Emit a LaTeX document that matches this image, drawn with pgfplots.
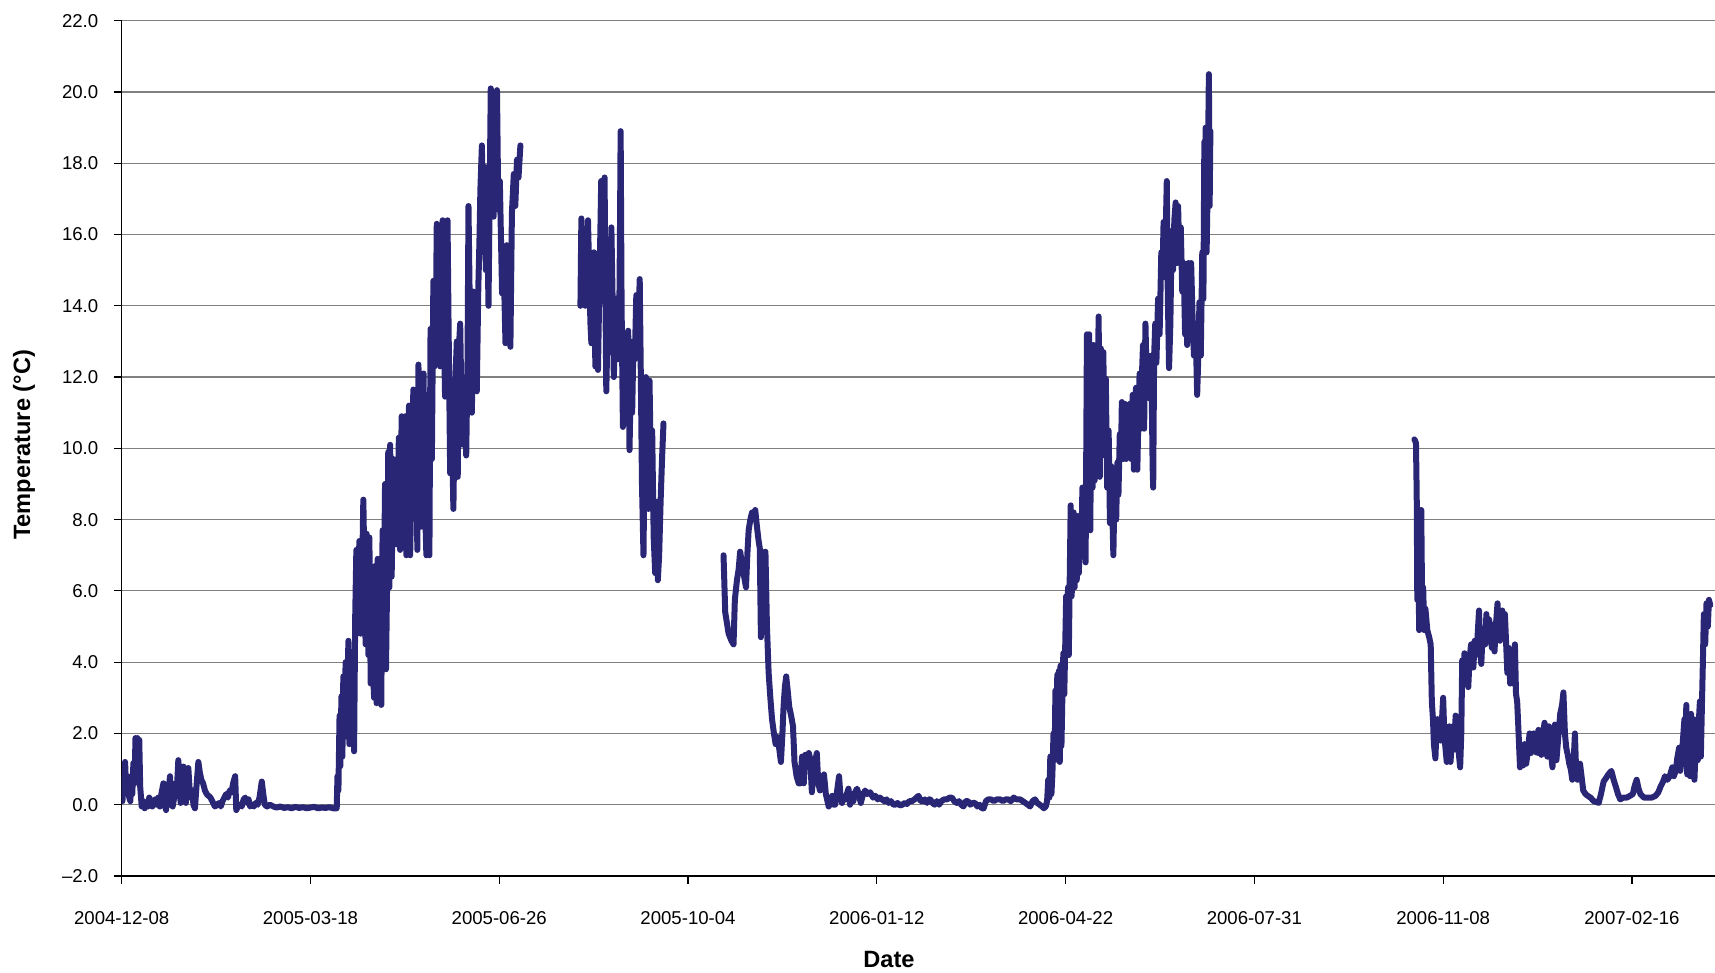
\documentclass[border=0pt]{standalone}
\usepackage{fontspec}
\setmainfont{Liberation Sans}
\usepackage{pgfplots}
\pgfplotsset{compat=1.18}
\definecolor{serie}{RGB}{42,38,118}
\definecolor{gridc}{RGB}{128,128,128}
\pgfplotsset{tser/.style={color=serie, line width=3pt, line join=round, line cap=round, mark=none}}
\begin{document}
\begin{tikzpicture}
\useasboundingbox (-60.85pt,-48.5pt) rectangle (796.65pt,438pt);
\begin{axis}[
  scale only axis, width=796.65pt, height=427.65pt,
  at={(0,0)}, anchor=south west,
  xmin=0, xmax=844, ymin=-2, ymax=22,
  axis x line*=bottom, axis y line*=left,
  axis line style={black, line width=0.6pt},
  xtick={0,100,...,800},
  xticklabels={2004-12-08,2005-03-18,2005-06-26,2005-10-04,2006-01-12,2006-04-22,2006-07-31,2006-11-08,2007-02-16},
  ytick={-2,0,...,22},
  yticklabels={–2.0,0.0,2.0,4.0,6.0,8.0,10.0,12.0,14.0,16.0,18.0,20.0,22.0},
  ymajorgrids, grid style={gridc, line width=0.6pt},
  tick align=outside, major tick length=4pt,
  tick style={black, line width=0.6pt},
  ticklabel style={font=\fontsize{9.3}{11}\selectfont},
  xticklabel style={yshift=-10pt},
  yticklabel style={xshift=-4.2pt},
  xlabel={Date}, ylabel={Temperature (°C)},
  label style={font=\fontsize{11.8}{14}\selectfont\bfseries},
  xlabel style={at={(axis description cs:0.4816,-0.0982)}, anchor=center},
  ylabel style={at={(axis description cs:-0.0613,0.504)}, anchor=center},
]
% segment 1
\addplot[tser] coordinates {
(0,0.5)(0.4,0.1)(0.9,0.6)(1.4,0.3)(1.8,1.2)(2.3,0.5)(2.8,0.4)(3.4,0.6)(4.0,0.2)(4.6,0.1)
(5.0,0.8)(5.6,0.3)(6.2,1.17)(6.8,0.6)(7.3,1.87)(7.8,1.4)(8.3,1.87)(8.8,0.8)(9.3,1.82)(9.8,0.5)
(10.6,-0.05)(11.4,0.1)(12.2,-0.1)(13.0,0.05)(13.8,-0.05)(14.6,0.2)(15.4,0.1)(16.2,-0.05)(17.0,0.05)(17.8,0.15)
(18.6,0.0)(19.4,0.2)(20.2,-0.05)(21.0,0.3)(22.1,0.6)(22.8,0.0)(23.5,-0.15)(24.2,0.3)(25.0,0.5)(25.6,0.8)
(26.2,0.05)(27.0,-0.05)(27.8,0.2)(28.5,0.6)(29.2,0.4)(30.0,1.25)(30.6,0.7)(31.2,0.05)(32.0,0.6)(32.7,1.07)
(33.4,0.4)(34.0,0.05)(34.7,0.7)(35.3,1.03)(35.9,0.5)(36.6,0.2)(37.4,0.4)(38.0,0.0)(38.8,-0.1)(39.6,0.5)
(40.6,1.2)(41.4,0.9)(42.2,0.7)(43.1,0.6)(44.1,0.4)(45.0,0.3)(46.0,0.25)(47.0,0.2)(48.0,0.1)(49.4,-0.05)
(50.5,0.0)(51.6,0.05)(52.5,-0.05)(53.4,0.1)(54.4,0.2)(55.3,0.3)(56.3,0.2)(57.2,0.4)(58.2,0.35)(59.0,0.6)
(60.1,0.8)(60.7,-0.15)(61.5,-0.05)(62.5,0.0)(63.6,-0.05)(64.6,0.15)(65.5,0.2)(66.4,0.05)(67.2,0.15)(68.0,-0.05)
(69.0,0.0)(70.0,-0.05)(71.0,0.05)(72.0,0.0)(73.0,0.2)(74.2,0.65)(75.0,0.3)(75.8,0.0)(77.0,-0.05)(78.5,0.0)
(80.4,-0.05)(82,-0.08)(84,-0.05)(86,-0.09)(88,-0.07)(90,-0.1)(92,-0.06)(94,-0.09)(96,-0.07)(98,-0.1)
(100,-0.08)(102,-0.06)(104,-0.1)(106,-0.08)(108,-0.09)(110,-0.07)(112,-0.1)(113.9,-0.1)(114.3,0.8)(114.8,0.4)
(115.4,2.5)(115.8,1.08)(116.4,3.04)(116.9,1.35)(117.4,3.6)(118.0,1.9)(118.6,4.0)(119.2,2.6)(120.1,4.6)(120.6,1.7)
(121.3,4.2)(122.0,3.0)(122.6,4.3)(123.1,1.5)(123.7,5.3)(124.3,7.15)(125.0,5.5)(125.9,7.4)(126.5,4.8)(127.2,6.0)
(128.0,8.56)(128.6,6.5)(129.2,4.5)(129.8,7.6)(130.7,4.2)(131.2,7.5)(131.9,3.4)(132.5,6.4)(133.1,3.8)(133.7,3.0)
(134.3,6.7)(135.0,2.85)(135.6,6.9)(136.3,3.8)(136.9,6.9)(137.5,2.8)(138.2,7.7)(138.8,5.3)(139.5,9.0)(140.0,3.8)
(140.6,6.2)(141.2,9.9)(141.8,6.1)(142.2,10.1)(143.0,6.4)(143.9,9.7)(144.6,7.5)(145.2,9.2)(146.0,7.3)(146.8,10.3)
(147.5,7.15)(148.3,10.9)(149.0,8.0)(149.6,9.8)(150.1,10.9)(150.8,7.0)(151.5,9.2)(152.2,11.2)(152.8,7.0)(153.6,9.4)
(154.5,11.65)(155.2,8.5)(156.0,10.5)(156.6,7.15)(157.2,12.35)(157.9,9.4)(158.6,7.8)(159.3,10.0)(159.9,12.1)(160.6,8.5)
(161.4,7.0)(162.2,9.6)(163.0,7.0)(163.6,13.35)(164.3,9.7)(165.1,14.7)(165.7,12.3)(166.4,13.5)(166.9,16.3)(167.5,12.5)
(168.2,14.0)(168.7,12.3)(169.4,15.2)(170.0,16.4)(170.6,13.5)(171.3,11.45)(172.0,14.8)(172.6,16.4)(173.1,13.7)(174.0,9.3)
(174.8,11.0)(175.7,8.3)(176.5,11.5)(177.5,13.0)(178.0,9.2)(178.7,12.9)(179.3,13.5)(180.2,10.5)(181.0,10.1)(181.8,12.0)
(182.5,9.8)(183.2,12.5)(183.7,16.8)(184.5,13.5)(185.5,11.0)(186.2,14.4)(187.0,12.3)(188.1,11.6)(188.9,14.5)(189.5,15.8)
(190.0,17.25)(190.8,18.5)(191.6,15.5)(192.2,17.9)(192.9,15.0)(193.6,16.5)(194.3,14.0)(195.0,17.5)(195.5,20.1)(196.2,17.0)
(197.0,16.5)(197.8,18.5)(198.8,20.05)(199.5,16.7)(200.3,17.5)(201.5,14.35)(202.2,15.5)(203.3,12.95)(204.0,15.7)(205.0,14.0)
(205.9,12.85)(206.7,16.6)(207.7,17.7)(208.5,16.8)(209.4,18.1)(210.2,17.6)(211.2,18.5)
};
% segment 2
\addplot[tser] coordinates {
(243.0,14.0)(243.5,16.45)(244.2,14.2)(244.9,15.8)(245.6,14.0)(246.3,15.5)(247.0,16.4)(247.7,14.8)(248.3,13.5)(248.8,12.95)
(249.5,15.2)(250.2,15.5)(250.9,12.3)(251.6,14.0)(252.3,12.2)(253.0,14.5)(253.6,16.2)(254.0,17.5)(254.7,15.0)(255.3,16.5)
(255.8,17.6)(256.2,14.5)(256.7,11.6)(257.4,13.5)(258.1,14.8)(258.8,13.2)(259.4,16.2)(260.1,14.0)(260.7,12.0)(261.4,13.6)
(262.0,14.2)(262.8,12.5)(263.6,13.8)(264.0,16.5)(264.3,18.9)(264.8,14.0)(265.5,10.6)(266.2,12.5)(266.9,13.2)(267.6,11.5)
(268.3,13.3)(269.0,9.95)(269.7,12.0)(270.4,11.0)(271.1,13.0)(271.8,12.5)(272.6,14.3)(273.5,13.0)(274.4,14.75)(275.0,12.0)
(275.6,9.0)(276.4,7.0)(277.0,10.0)(277.7,12.0)(278.3,9.5)(279.0,8.3)(279.6,11.9)(280.3,9.5)(281.0,10.5)(281.8,7.5)
(282.6,6.5)(283.3,8.5)(284.0,6.3)(284.7,7.0)(285.5,8.56)(286.3,9.8)(287.0,10.7)
};
% segment 3
\addplot[tser] coordinates {
(318.8,7.0)(319.7,5.4)(321.5,4.8)(323.0,4.6)(324.1,4.5)(324.8,5.75)(325.9,6.3)(326.8,6.6)(327.6,7.1)(328.5,6.8)
(329.4,6.5)(330.7,6.1)(331.4,7.0)(332.1,7.7)(333.0,8.0)(333.9,8.2)(334.8,8.0)(335.6,8.27)(336.5,7.8)(337.4,7.4)
(338.0,7.2)(338.6,4.7)(339.2,7.1)(340.0,5.5)(341.0,7.1)(341.8,5.0)(342.7,3.7)(343.6,3.0)(344.5,2.4)(345.5,2.0)
(346.4,1.7)(347.2,1.9)(348.0,1.7)(349.2,1.2)(350.0,2.0)(350.6,2.75)(351.3,3.3)(352.0,3.6)(352.8,3.2)(353.6,2.75)
(354.6,2.5)(355.6,2.2)(356.4,1.2)(357.5,0.8)(358.6,0.6)(359.5,0.6)(360.4,1.35)(361.3,0.6)(362.1,1.4)(363.0,1.1)
(364.0,1.45)(364.7,1.3)(365.6,0.35)(366.5,1.0)(367.3,1.2)(368.2,1.45)(369.0,0.6)(369.9,0.4)(371.0,0.6)(372.0,0.85)
(373.0,0.3)(374.5,-0.05)(375.5,0.1)(376.4,0.25)(377.2,0.0)(377.9,0.0)(379.0,0.4)(380.0,0.8)(380.8,0.2)(381.6,0.05)
(382.5,0.2)(383.3,0.15)(384.1,0.3)(385.0,0.45)(385.8,0.0)(386.8,0.3)(387.6,0.1)(388.5,0.35)(389.5,0.45)(390.5,0.3)
(391.5,0.05)(392.5,0.25)(393.8,0.4)(395,0.3)(396.5,0.35)(398,0.2)(399.2,0.25)(400.5,0.15)(401.6,0.2)(402.7,0.15)
(404,0.1)(405.2,0.15)(406.3,0.05)(407.5,0.1)(408.8,0.0)(409.8,0.0)(411,0.05)(412.2,-0.02)(413.5,0.0)(414.8,0.05)
(416,0.02)(417.2,0.1)(418.6,0.1)(420,0.15)(421,0.2)(422.1,0.25)(423.2,0.1)(424.3,0.1)(425.4,0.15)(426.6,0.05)
(427.5,0.15)(428.3,0.15)(429.5,0.05)(430.6,0.0)(431.8,0.1)(433,0.0)(434.2,0.1)(435.6,0.15)(437.2,0.15)(438.5,0.2)
(439.8,0.2)(441,0.1)(442.3,0.05)(443.5,0.1)(444.7,0.0)(445.9,-0.05)(447,0.1)(448.3,0.1)(449.5,0.0)(450.7,0.05)
(452,0.05)(453.3,-0.05)(454.5,0.0)(455.6,-0.1)(456.6,-0.1)(457.8,0.1)(459,0.15)(460.5,0.15)(462,0.1)(463.5,0.15)
(465.3,0.15)(466.8,0.1)(468.2,0.15)(469.6,0.15)(471,0.1)(472.5,0.2)(474,0.15)(475.9,0.15)(477.3,0.1)(478.7,0.05)
(480,0.0)(481.2,-0.05)(482.5,0.1)(483.8,0.15)(485,0.05)(486.3,0.0)(487.5,-0.05)(488.5,-0.1)(489.5,-0.05)(490.2,0.1)
(490.8,0.7)(491.4,0.2)(491.9,1.35)(492.5,0.3)(493.0,0.85)(493.6,2.0)(494.2,1.25)(494.6,3.2)(495.1,1.8)(495.6,3.65)
(496.0,2.0)(496.4,3.75)(496.9,1.2)(497.3,3.9)(497.8,1.65)(498.3,3.05)(498.8,4.25)(499.3,3.1)(499.8,4.45)(500.3,5.85)
(500.8,4.75)(501.3,6.1)(501.7,4.2)(502.2,6.4)(502.7,8.4)(503.2,5.85)(503.7,6.7)(504.3,8.2)(504.8,6.1)(505.3,7.7)
(505.9,6.3)(506.4,8.1)(507.0,6.5)(507.8,7.9)(508.3,6.95)(508.9,8.9)(509.4,7.7)(510.0,8.8)(510.6,6.8)(511.3,13.2)
(511.9,8.9)(512.5,13.2)(513.1,7.7)(513.7,12.9)(514.3,8.9)(514.8,12.9)(515.4,9.1)(516.0,11.5)(516.6,9.5)(517.5,13.7)
(518.1,9.2)(518.7,12.8)(519.3,10.5)(520.0,12.7)(520.6,9.8)(521.3,11.95)(522.0,8.9)(522.8,10.5)(523.5,7.9)(524.2,9.5)
(525.3,7.0)(526.0,9.1)(526.8,8.0)(527.4,9.6)(528.0,8.7)(528.7,10.4)(529.3,9.7)(529.8,11.3)(530.5,9.7)(531.3,11.25)
(532.0,9.7)(532.7,11.0)(533.4,9.9)(534.0,11.25)(534.8,9.7)(535.5,11.5)(536.2,9.4)(536.8,10.5)(537.3,11.7)(538.0,9.4)
(538.6,11.0)(539.2,12.1)(539.8,10.55)(540.4,12.0)(541.0,12.9)(541.6,10.55)(542.3,13.5)(543.0,11.8)(543.8,12.6)(544.6,11.4)
(545.4,12.6)(546.1,9.5)(546.4,8.9)(546.9,12.6)(547.5,13.5)(548.1,12.4)(549.0,14.2)(549.8,13.2)(550.7,15.5)(551.3,14.8)
(551.9,16.35)(552.6,14.8)(553.2,16.5)(553.6,17.5)(554.1,14.5)(554.8,12.25)(555.5,13.5)(556.2,16.1)(556.9,15.0)(557.6,16.4)
(558.3,16.9)(559.0,15.2)(559.6,16.8)(560.3,15.2)(561.0,16.2)(561.8,14.4)(562.5,15.2)(563.3,13.2)(564.0,14.5)(564.4,12.9)
(565.1,15.2)(565.8,13.6)(566.5,15.2)(567.3,13.6)(568.0,12.6)(568.8,13.5)(569.7,11.5)(570.3,12.6)(570.9,14.1)(571.6,12.6)
(572.4,15.5)(573.0,14.2)(573.5,18.6)(573.9,17.1)(574.2,19.0)(574.7,15.5)(575.3,17.5)(575.9,20.5)(576.3,16.8)(576.7,18.9)
};
% segment 4
\addplot[tser] coordinates {
(684.8,10.25)(685.6,10.15)(686.0,8.65)(686.3,5.75)(686.8,7.2)(687.3,4.9)(687.9,6.8)(688.4,8.27)(688.9,5.4)(689.4,6.1)
(690.0,4.9)(690.6,5.5)(691.6,4.9)(692.6,4.7)(693.4,4.5)(694.0,2.9)(694.6,2.4)(695.1,1.7)(695.9,1.3)(696.5,2.2)
(697.0,2.4)(697.6,1.8)(698.2,2.2)(698.8,1.8)(699.4,2.4)(700.0,3.0)(700.6,2.0)(701.2,1.6)(701.9,1.2)(702.6,1.6)
(703.3,2.2)(703.9,1.2)(704.6,1.8)(705.3,2.2)(706.0,1.55)(706.6,2.5)(707.3,2.4)(708.0,1.6)(709.0,1.05)(709.6,2.0)
(710.1,4.05)(710.7,3.5)(711.3,4.25)(711.9,3.5)(712.7,3.85)(713.3,3.3)(714.0,4.1)(714.8,4.5)(715.4,3.95)(716.0,3.85)
(716.7,4.6)(717.3,4.2)(718.1,4.6)(719.0,5.45)(719.6,4.4)(720.2,3.95)(720.9,4.8)(721.6,4.9)(722.3,4.5)(722.9,5.35)
(723.6,4.6)(724.3,5.2)(725.0,4.95)(725.8,4.4)(726.6,5.05)(727.2,4.3)(727.9,5.0)(728.8,5.65)(729.5,4.9)(730.1,4.6)
(730.8,5.2)(731.3,5.45)(732.0,4.8)(732.7,5.35)(733.3,4.6)(734.0,3.7)(734.8,4.4)(735.5,3.4)(736.3,4.2)(737.0,3.4)
(738.0,4.5)(738.6,3.1)(739.2,2.9)(739.8,2.2)(740.7,1.05)(741.5,1.2)(742.3,1.1)(743.1,1.7)(744.0,1.15)(744.8,1.5)
(745.8,2.0)(746.5,1.45)(747.3,1.8)(748.0,2.0)(748.9,1.5)(749.8,1.45)(750.5,2.1)(751.3,1.6)(752.0,1.4)(752.8,1.9)
(753.7,2.3)(754.5,1.55)(755.2,1.35)(756.0,2.2)(756.8,1.6)(757.9,1.05)(758.6,1.7)(759.2,2.25)(760.0,1.25)(761.0,1.9)
(762.0,2.55)(763.0,2.8)(763.7,3.15)(764.5,2.0)(765.2,1.6)(766.0,1.4)(766.8,1.15)(767.6,1.0)(768.4,0.7)(769.2,1.3)
(769.8,2.0)(770.4,1.0)(771.2,0.7)(772.0,1.0)(772.5,1.15)(773.3,0.8)(774.2,0.4)(775.4,0.3)(776.6,0.25)(778.0,0.2)
(779.8,0.1)(781.0,0.08)(782.4,0.05)(783.6,0.3)(785.0,0.65)(786.3,0.75)(787.5,0.85)(789.1,0.95)(790.3,0.7)(791.5,0.5)
(792.6,0.3)(793.8,0.15)(795.5,0.2)(797.3,0.2)(799.0,0.25)(800.5,0.3)(801.3,0.5)(802.5,0.7)(803.5,0.45)(804.5,0.3)
(806.3,0.2)(808.1,0.2)(810.5,0.2)(812.5,0.25)(814.0,0.35)(815.1,0.5)(816.5,0.65)(817.5,0.8)(818.8,0.7)(820.0,0.8)
(821.4,1.05)(822.2,0.8)(823.2,0.95)(824.0,1.3)(825.0,1.6)(825.6,0.95)(826.4,1.3)(827.0,1.8)(827.8,2.4)(828.3,1.5)
(828.8,2.8)(829.3,0.85)(829.9,1.6)(830.4,2.4)(830.8,0.8)(831.3,2.55)(831.8,0.85)(832.3,1.55)(832.7,2.4)(833.1,0.7)
(833.7,1.5)(834.3,2.2)(834.9,1.25)(835.5,2.4)(836.0,2.9)(836.5,1.35)(837.0,2.6)(837.6,4.05)(838.1,5.35)(838.8,4.5)
(839.5,5.65)(840.2,5.0)(840.8,5.75)(841.5,5.6)
};
\end{axis}
\end{tikzpicture}
\end{document}
